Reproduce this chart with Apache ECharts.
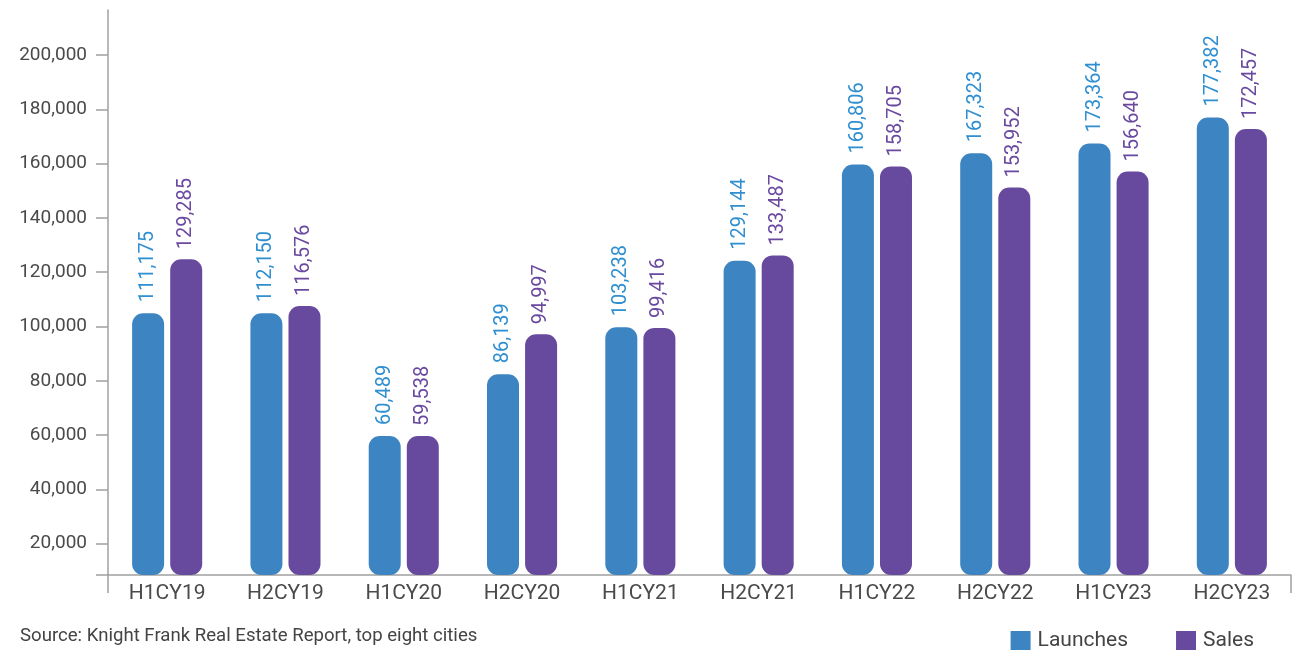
<!DOCTYPE html>
<html>
<head>
<meta charset="utf-8">
<script src="https://cdn.jsdelivr.net/npm/echarts@6/dist/echarts.min.js"></script>
<style>
html,body{margin:0;padding:0;background:#fff;}
#chart{width:1294px;height:650px;}
</style>
</head>
<body>
<div id="chart"></div>
<script>
// Categories
const categories = ['H1CY19','H2CY19','H1CY20','H2CY20','H1CY21','H2CY21','H1CY22','H2CY22','H1CY23','H2CY23'];
// Bar heights as drawn in the picture
const launches = [104870, 104870, 59680, 82400, 99710, 124240, 159630, 163830, 167370, 176940];
const sales    = [124755, 107560, 59680, 97130, 99490, 126190, 158970, 151160, 157100, 172710];
// Values printed above the bars
const launchLabels = [111175, 112150, 60489, 86139, 103238, 129144, 160806, 167323, 173364, 177382];
const salesLabels  = [129285, 116576, 59538, 94997, 99416, 133487, 158705, 153952, 156640, 172457];
// Y axis tick labels
const yTicks = [20000, 40000, 60000, 80000, 100000, 120000, 140000, 160000, 180000, 200000];
const yMin = 8470, yMax = 216575;

const fmt = v => Number(v).toLocaleString('en-US');
const FONT = 'Roboto';

const chart = echarts.init(document.getElementById('chart'), null, {renderer:'canvas'});
chart.setOption({
  animation: false,
  backgroundColor: '#ffffff',
  textStyle: {fontFamily: FONT},
  grid: {left: 108, right: 3, top: 10, bottom: 75, containLabel: false},
  legend: {
    data: ['Launches','Sales'],
    right: 35, top: 625,
    icon: 'rect', itemWidth: 20, itemHeight: 19, itemGap: 48,
    textStyle: {fontFamily: FONT, fontSize: 21, color: '#444', padding: [0,0,0,2]}
  },
  title: {
    text: 'Source: Knight Frank Real Estate Report, top eight cities',
    left: 15, top: 622,
    textStyle: {fontFamily: FONT, fontSize: 18.6, fontWeight: 'normal', color: '#444'}
  },
  xAxis: {
    type: 'category',
    data: categories,
    axisLine: {show: true, lineStyle: {color: '#a0a0a0', width: 1.5}},
    axisTick: {show: true, interval: function(i){ return i === 0; }, length: 18, lineStyle: {color: '#a0a0a0', width: 1.5}},
    axisLabel: {fontFamily: FONT, fontSize: 21, color: '#4a4a4a', margin: 8}
  },
  yAxis: {
    type: 'value',
    min: yMin, max: yMax,
    splitLine: {show: false},
    axisLine: {show: true, lineStyle: {color: '#a0a0a0', width: 1.5}},
    axisTick: {show: true, length: 12, customValues: [yMin].concat(yTicks), lineStyle: {color: '#a0a0a0', width: 1.5}},
    axisLabel: {fontFamily: FONT, fontSize: 19, color: '#4a4a4a', margin: 21, customValues: yTicks, formatter: v => fmt(v)}
  },
  series: [
    {
      name: 'Launches', type: 'bar', data: launches,
      barWidth: 32, barGap: '19%',
      itemStyle: {color: '#3d84c2', borderRadius: 11},
      label: {show: true, position: 'top', rotate: 90, align: 'left', verticalAlign: 'middle', distance: 11,
        fontFamily: FONT, fontSize: 20, color: '#2f8fd0',
        formatter: p => fmt(launchLabels[p.dataIndex])}
    },
    {
      name: 'Sales', type: 'bar', data: sales,
      barWidth: 32, barGap: '19%',
      itemStyle: {color: '#674a9e', borderRadius: 11},
      label: {show: true, position: 'top', rotate: 90, align: 'left', verticalAlign: 'middle', distance: 10,
        fontFamily: FONT, fontSize: 20, color: '#6a4aa0',
        formatter: p => fmt(salesLabels[p.dataIndex])}
    }
  ]
});
</script>
</body>
</html>
